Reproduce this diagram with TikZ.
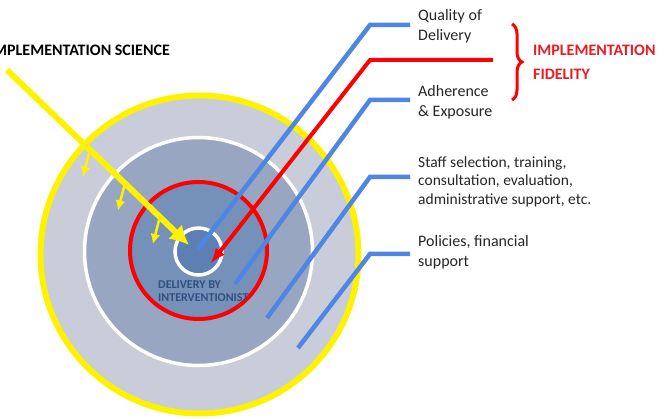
\documentclass[tikz,border=0pt]{standalone}
\usepackage{fontspec}
\setmainfont{Carlito}
\usepackage{xcolor}
\usetikzlibrary{arrows, arrows.meta}
\usetikzlibrary{decorations.pathreplacing, math, calc}
\definecolor{ringgray}{HTML}{C8CDD9}
\definecolor{midgray}{HTML}{98A6C1}
\definecolor{innerblue}{HTML}{7691B9}
\definecolor{coreblue}{HTML}{5D80B4}
\definecolor{lineblue}{HTML}{4F86E4}
\definecolor{textgray}{HTML}{262626}
\definecolor{deliveryblue}{HTML}{30507F}
\definecolor{fidred}{HTML}{E81C22}

\begin{document}
\begin{tikzpicture}[x=1pt,y=-1pt,
  blueline/.style={line width=4.5, color=lineblue},
  redline/.style={line width=4, color=red},
  yelline/.style={line width=6, color=yellow},
  tagtext/.style={anchor=base west, inner xsep=8pt, inner ysep=0pt, align=left,
    text=textgray, font=\fontsize{16}{20}\selectfont}]
\tikzmath{
\Ro=159; \Rw=114; \Rr=68.5; \Rc=23.5;
}
\useasboundingbox (0,0) rectangle (665,419);
\clip (0,0) rectangle (665,419);

%the rings
\fill[ringgray] (199.5,254.5) circle(\Ro);
\draw[yellow, line width=6] (199.5,254.5) circle(\Ro);
\fill[midgray] (198.5,251.5) circle(\Rw);
\draw[white, line width=3.5] (198.5,251.5) circle(\Rw);
\fill[innerblue] (198.5,250.5) circle(\Rr);
\draw[red, line width=4] (198.5,250.5) circle(\Rr);
\fill[coreblue] (198.5,251.5) circle(\Rc);
\draw[white, line width=3.5] (198.5,251.5) circle(\Rc);
% base of a two line node = baseline of its last line
\node[anchor=base west, inner sep=0, align=left, text=deliveryblue,
  font=\bfseries\fontsize{12}{13}\selectfont] (deliv) at (158,301.5) {DELIVERY BY\\INTERVENTIONIST};

%labels on the right
\node[tagtext] (qual) at (410,41) {Quality of\\Delivery};
\node[tagtext] (adh) at (410,117) {Adherence\\\& Exposure};
\node[tagtext, font=\fontsize{15.5}{18.5}\selectfont] (staff) at (410,204.5)
  {Staff selection, training,\\consultation, evaluation,\\administrative support, etc.};
\node[tagtext] (pol) at (410,267) {Policies, financial\\support};

\coordinate (qin) at (198,249);  \coordinate (qelb) at (370,25);
\coordinate (ain) at (235,284);  \coordinate (aelb) at (370,100);
\coordinate (sin) at (267,318);  \coordinate (selb) at (370,177);
\coordinate (pin) at (298,348);  \coordinate (pelb) at (370,254);

%blue leader lines
\draw[blueline] (qin) -- (qelb) -- (qelb -| qual.west);
\draw[blueline] (ain) -- (aelb) -- (aelb -| adh.west);
\draw[blueline] (sin) -- (selb) -- (selb -| staff.west);
\draw[blueline] (pin) -- (pelb) -- (pelb -| pol.west);

%fidelity line and brace
\coordinate (rend) at (493,60); \coordinate (relb) at (370,60); \coordinate (rtip) at (211,263);
\draw[redline, -latex] (rend) -- (relb) -- (rtip);
\coordinate (btop) at (512,24); \coordinate (bbot) at (512,100);
\draw[red, line width=3, decorate, decoration={brace, amplitude=10pt}] (btop) -- (bbot);
\node[anchor=base west, inner sep=0, align=left, text=fidred,
  font=\bfseries\fontsize{16}{24}\selectfont] (fid) at (533,80) {IMPLEMENTATION\\FIDELITY};

%implementation science arrow
\node[anchor=base east, inner sep=0, font=\bfseries\fontsize{16}{20}\selectfont] (sci) at (170,56)
  {IMPLEMENTATION SCIENCE};
\coordinate (ystart) at (7,70); \coordinate (ytip) at (189,245);
\draw[yelline, -{Latex[length=19pt,width=20pt]}] (ystart) -- (ytip);
\foreach \f in {0.456,0.648,0.84}
  \draw[yellow, line width=2.5, -{Latex[length=10pt,width=10pt]}] ($(ystart)!\f!(ytip)$) -- +(-7,27);

\end{tikzpicture}
\end{document}
